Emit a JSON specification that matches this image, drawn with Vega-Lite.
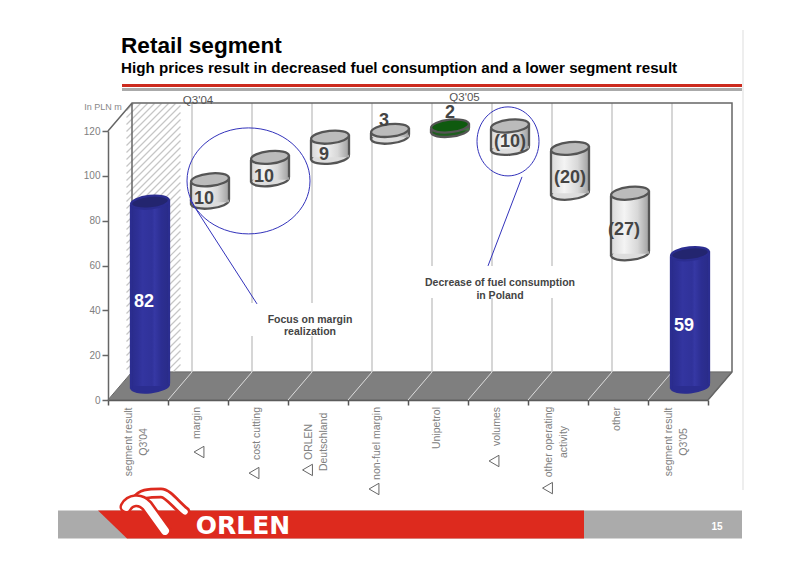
{
"$schema":"https://vega.github.io/schema/vega-lite/v6.json",
"width":600,"height":269,
"autosize":{"type":"none"},
"padding":{"left":108,"top":131,"right":92,"bottom":165},
"background":"white",
"config":{"view":{"stroke":null},"font":"Liberation Sans"},
"title":{"text":"Retail segment","subtitle":"High prices result in decreased fuel consumption and a lower segment result","anchor":"start","frame":"group","dx":13,"offset":-49,"font":"Liberation Sans","fontSize":22.6,"fontWeight":"bold","color":"#000000","subtitleFont":"Liberation Sans","subtitleFontSize":15.2,"subtitleFontWeight":"bold","subtitleColor":"#000000","subtitlePadding":3},
"datasets":{
"steps":[
{"category":"segment result Q3'04","kind":"total","low":0,"high":82,"label":"82","labelAt":41,"group":"white"},
{"category":"margin","kind":"step","low":82,"high":92,"label":"10","labelAt":86.6,"group":"a"},
{"category":"cost cutting","kind":"step","low":92,"high":102,"label":"10","labelAt":96.4,"group":"a"},
{"category":"ORLEN Deutschland","kind":"step","low":102,"high":111,"label":"9","labelAt":106.25,"group":"a"},
{"category":"non-fuel margin","kind":"step","low":111,"high":114,"label":"3","labelAt":121.4,"group":"a"},
{"category":"Unipetrol","kind":"unipetrol","low":114,"high":116,"label":"2","labelAt":125,"group":"b"},
{"category":"volumes","kind":"step","low":106,"high":116,"label":"(10)","labelAt":112,"group":"b"},
{"category":"other operating activity","kind":"step","low":86,"high":106,"label":"(20)","labelAt":96,"group":"b"},
{"category":"other","kind":"step","low":59,"high":86,"label":"(27)","labelAt":72.8,"group":"a"},
{"category":"segment result Q3'05","kind":"total","low":0,"high":59,"label":"59","labelAt":29.9,"group":"white"}
],
"anchor":[{"category":"Unipetrol","level":60}],
"oneLine":[
{"category":"margin","text":"margin"},
{"category":"cost cutting","text":"cost cutting"},
{"category":"non-fuel margin","text":"non-fuel margin"},
{"category":"Unipetrol","text":"Unipetrol"},
{"category":"volumes","text":"volumes"},
{"category":"other","text":"other"}
],
"twoLine":[
{"category":"segment result Q3'04","text":"segment result\nQ3'04"},
{"category":"ORLEN Deutschland","text":"ORLEN\nDeutschland"},
{"category":"other operating activity","text":"other operating\nactivity"},
{"category":"segment result Q3'05","text":"segment result\nQ3'05"}
],
"deltaA":[{"category":"margin","level":-23.2}],
"deltaB":[{"category":"cost cutting","level":-32.6},{"category":"non-fuel margin","level":-39.7},{"category":"volumes","level":-27.2}],
"deltaC":[{"category":"ORLEN Deutschland","level":-31.2},{"category":"other operating activity","level":-39.3}]
},
"data":{"name":"steps"},
"encoding":{"x":{"field":"category","type":"nominal","sort":null,"title":null,
"scale":{"domain":["segment result Q3'04","margin","cost cutting","ORLEN Deutschland","non-fuel margin","Unipetrol","volumes","other operating activity","other","segment result Q3'05"],"paddingInner":0,"paddingOuter":0},
"axis":{"labels":false,"tickBand":"extent","tickSize":5,"tickColor":"#555555","tickWidth":1.5,"domainColor":"#555555","domainWidth":1.5,"grid":false,"title":null}}},
"resolve":{"scale":{"fill":"independent"}},
"layer":[
{"data":{"name":"anchor"},"mark":{"type":"point","filled":true,"opacity":1,"size":4,"fill":"#ababab","strokeWidth":0,"shape":"M-380,244.9L304,244.9L304,272.9L-380,272.9Z"},
"encoding":{"y":{"field":"level","type":"quantitative","scale":{"domain":[0,120],"nice":false},
"axis":{"values":[0,20,40,60,80,100,120],"title":"In PLN m","titleAngle":0,"titleX":-5.5,"titleY":-24.5,"titleAlign":"center","titleBaseline":"middle","titleFontSize":9,"titleFontWeight":"normal","titleColor":"#888888","labelColor":"#808080","labelFontSize":10,"tickColor":"#666666","tickWidth":1.5,"tickSize":6,"labelPadding":2,"domainColor":"#666666","domainWidth":1.5,"grid":false}}}},
{"data":{"name":"anchor"},"mark":{"type":"point","filled":true,"opacity":1,"size":4,"fill":"#dd2a1e","strokeWidth":0,"shape":"M-340,244.9L146,244.9L146,272.9L-311,272.9Z"},"encoding":{"y":{"field":"level","type":"quantitative"}}},
{"data":{"name":"anchor"},"mark":{"type":"point","filled":false,"opacity":1,"size":4,"stroke":"#dd2a1e","strokeWidth":11,"strokeCap":"round","shape":"M-301,234.4C-297,228.4 -291,227.4 -277,227.4C-270,227.4 -262,239.4 -253,246.4"},"encoding":{"y":{"field":"level","type":"quantitative"}}},
{"data":{"name":"anchor"},"mark":{"type":"point","filled":false,"opacity":1,"size":4,"stroke":"#ffffff","strokeWidth":5.5,"strokeCap":"round","shape":"M-301,234.4C-297,228.4 -291,227.4 -277,227.4C-270,227.4 -262,239.4 -253,246.4"},"encoding":{"y":{"field":"level","type":"quantitative"}}},
{"data":{"name":"anchor"},"mark":{"type":"point","filled":false,"opacity":1,"size":4,"stroke":"#dd2a1e","strokeWidth":13,"strokeCap":"round","shape":"M-312,241.4C-308,234.4 -298,232.4 -291,240.4L-273,265.4"},"encoding":{"y":{"field":"level","type":"quantitative"}}},
{"data":{"name":"anchor"},"mark":{"type":"point","filled":false,"opacity":1,"size":4,"stroke":"#ffffff","strokeWidth":8,"strokeCap":"round","shape":"M-312,241.4C-308,234.4 -298,232.4 -291,240.4L-273,265.4"},"encoding":{"y":{"field":"level","type":"quantitative"}}},
{"data":{"name":"anchor"},"mark":{"type":"point","filled":false,"opacity":1,"size":4,"stroke":"#e8e8e8","strokeWidth":1.5,"shape":"M305,-235.6L305,224.4"},"encoding":{"y":{"field":"level","type":"quantitative"}}},
{"data":{"name":"anchor"},"mark":{"type":"point","filled":true,"opacity":1,"size":4,"fill":"#cc2a1e","strokeWidth":0,"shape":"M-316,-181.6L304,-181.6L304,-178.6L-316,-178.6Z"},"encoding":{"y":{"field":"level","type":"quantitative"}}},
{"data":{"name":"anchor"},"mark":{"type":"point","filled":true,"opacity":1,"size":4,"fill":"#aaaaaa","strokeWidth":0,"shape":"M-316,-177.6L304,-177.6L304,-174.6L-316,-174.6Z"},"encoding":{"y":{"field":"level","type":"quantitative"}}},
{"data":{"name":"anchor"},"mark":{"type":"point","filled":true,"opacity":1,"size":4,"fill":"#7f7f7f","stroke":"#666666","strokeWidth":1,"shape":"M-330,134.4L-306,106.4L294,106.4L270,134.4Z"},"encoding":{"y":{"field":"level","type":"quantitative"}}},
{"data":{"name":"anchor"},"mark":{"type":"point","filled":false,"opacity":1,"size":4,"stroke":"#c6c6c6","strokeWidth":1.2,"xOffset":-284.5,"shape":"M-27,-127L-20,-134M-27,-120L-13,-134M-27,-113L-6,-134M-27,-106L1,-134M-27,-99L8,-134M-27,-92L15,-134M-27,-85L22,-134M-27,-78L27,-132M-27,-71L27,-125M-27,-64L27,-118M-27,-57L27,-111M-27,-50L27,-104M-27,-43L27,-97M-27,-36L27,-90M-27,-29L27,-83M-27,-22L27,-76M-27,-15L27,-69M-27,-8L27,-62M-27,-1L27,-55M-27,6L27,-48M-27,13L27,-41M-27,20L27,-34M-27,27L27,-27M-27,34L27,-20M-27,41L27,-13M-27,48L27,-6M-27,55L27,1M-27,62L27,8M-27,69L27,15M-27,76L27,22M-27,83L27,29M-27,90L27,36M-27,97L27,43M-27,104L27,50M-27,111L27,57M-27,118L27,64M-27,125L27,71M-27,132L27,78M-22,134L27,85M-15,134L27,92M-8,134L27,99M-1,134L27,106M6,134L27,113M13,134L27,120M20,134L27,127","yOffset":-28},"encoding":{"y":{"field":"level","type":"quantitative"}}},
{"transform":[{"filter":"datum.category !== \"segment result Q3'04\""}],"mark":{"type":"rule","stroke":"#c8c8c8","strokeWidth":1.5,"xOffset":24,"yOffset":-28,"y2Offset":-28},"encoding":{"x":{"field":"category","type":"nominal","bandPosition":0},"y":{"datum":0},"y2":{"datum":120}}},
{"data":{"name":"anchor"},"mark":{"type":"point","filled":false,"opacity":1,"size":4,"stroke":"#666666","strokeWidth":1.5,"shape":"M-330,-134.6L-306,-162.6L294,-162.6L294,106.4L270,134.4M-306,-162.6L-306,106.4"},"encoding":{"y":{"field":"level","type":"quantitative"}}},
{"transform":[{"filter":"datum.category !== \"segment result Q3'04\""}],"mark":{"type":"point","filled":false,"opacity":1,"size":4,"stroke":"#dddddd","strokeWidth":1,"xOffset":12,"yOffset":-14,"shape":"M-12,14L12,-14"},"encoding":{"x":{"field":"category","type":"nominal","bandPosition":0},"y":{"datum":0}}},
{"data":{"name":"anchor"},"mark":{"type":"point","filled":true,"opacity":1,"size":4,"fill":"#ffffff","strokeWidth":0,"shape":"M-188,37.4L-70,37.4L-70,70.4L-188,70.4Z"},"encoding":{"y":{"field":"level","type":"quantitative"}}},
{"data":{"name":"anchor"},"mark":{"type":"point","filled":true,"opacity":1,"size":4,"fill":"#ffffff","strokeWidth":0,"shape":"M-13,0.4L140,0.4L140,32.4L-13,32.4Z"},"encoding":{"y":{"field":"level","type":"quantitative"}}},
{"mark":{"type":"point","filled":true,"opacity":1,"size":1444,"angle":-6,"xOffset":12,"yOffset":-14,"strokeWidth":2.3,"shape":"M-1,0C-1,-0.182 -0.552,-0.33 0,-0.33C0.552,-0.33 1,-0.182 1,0C1,0.182 0.552,0.33 0,0.33C-0.552,0.33 -1,0.182 -1,0Z"},
"encoding":{"y":{"field":"low","type":"quantitative"},"fill":{"field":"kind","type":"nominal","legend":null,"scale":{"domain":["total","step","unipetrol"],"range":["#2b2d90","#dddddd","#1f5f1f"]}},"stroke":{"field":"kind","type":"nominal","legend":null,"scale":{"domain":["total","step","unipetrol"],"range":["#2b2d90","#555555","#555555"]}}}},
{"transform":[{"filter":"datum.kind === 'step'"}],"mark":{"type":"bar","width":38,"xOffset":12,"yOffset":-14,"y2Offset":-14,"fill":{"gradient":"linear","x1":0,"y1":0,"x2":1,"y2":0,"stops":[{"offset":0,"color":"#d8d8d8"},{"offset":0.35,"color":"#f4f4f4"},{"offset":0.7,"color":"#d8d8d8"},{"offset":1,"color":"#a0a0a0"}]}},"encoding":{"y":{"field":"low","type":"quantitative"},"y2":{"field":"high"}}},
{"transform":[{"filter":"datum.kind === 'total'"}],"mark":{"type":"bar","width":38,"xOffset":12,"yOffset":-14,"y2Offset":-14,"fill":{"gradient":"linear","x1":0,"y1":0,"x2":1,"y2":0,"stops":[{"offset":0,"color":"#2a2c8c"},{"offset":0.18,"color":"#2e3096"},{"offset":0.3,"color":"#3335a0"},{"offset":0.55,"color":"#30329a"},{"offset":0.62,"color":"#3638a4"},{"offset":0.8,"color":"#2c2e92"},{"offset":1,"color":"#2a2c88"}]}},"encoding":{"y":{"field":"low","type":"quantitative"},"y2":{"field":"high"}}},
{"transform":[{"filter":"datum.kind === 'unipetrol'"}],"mark":{"type":"bar","width":38,"xOffset":12,"yOffset":-14,"y2Offset":-14,"fill":"#3f7a3f"},"encoding":{"y":{"field":"low","type":"quantitative"},"y2":{"field":"high"}}},
{"mark":{"type":"rule","strokeWidth":2.3,"xOffset":-7,"yOffset":-11.5,"y2Offset":-11.5},"encoding":{"x":{"field":"category","type":"nominal"},"y":{"field":"low","type":"quantitative"},"y2":{"field":"high"},"stroke":{"field":"kind","type":"nominal","legend":null}}},
{"mark":{"type":"rule","strokeWidth":2.3,"xOffset":31,"yOffset":-16.5,"y2Offset":-16.5},"encoding":{"x":{"field":"category","type":"nominal"},"y":{"field":"low","type":"quantitative"},"y2":{"field":"high"},"stroke":{"field":"kind","type":"nominal","legend":null}}},
{"mark":{"type":"point","filled":true,"opacity":1,"size":1444,"angle":-6,"xOffset":12,"yOffset":-14,"strokeWidth":2.3,"shape":"M-1,0C-1,-0.182 -0.552,-0.33 0,-0.33C0.552,-0.33 1,-0.182 1,0C1,0.182 0.552,0.33 0,0.33C-0.552,0.33 -1,0.182 -1,0Z"},
"encoding":{"y":{"field":"high","type":"quantitative"},"fill":{"field":"kind","type":"nominal","legend":null,"scale":{"domain":["total","step","unipetrol"],"range":["#23256f","#bbbbbb","#0f5a0f"]}},"stroke":{"field":"kind","type":"nominal","legend":null}}},
{"data":{"name":"anchor"},"mark":{"type":"point","filled":false,"opacity":1,"size":4,"stroke":"#3333bb","strokeWidth":1,"shape":"M-251,-84.6C-251,-113.9 -223.5,-137.6 -189.5,-137.6C-155.5,-137.6 -128,-113.9 -128,-84.6C-128,-55.3 -155.5,-31.6 -189.5,-31.6C-223.5,-31.6 -251,-55.3 -251,-84.6ZM-248,-65.6L-181,38.4"},"encoding":{"y":{"field":"level","type":"quantitative"}}},
{"data":{"name":"anchor"},"mark":{"type":"point","filled":false,"opacity":1,"size":4,"stroke":"#3333bb","strokeWidth":1,"shape":"M39,-124.1C39,-143.1 52.9,-158.6 70,-158.6C87.1,-158.6 101,-143.1 101,-124.1C101,-105.1 87.1,-89.6 70,-89.6C52.9,-89.6 39,-105.1 39,-124.1ZM84,-88.6L50,0.4"},"encoding":{"y":{"field":"level","type":"quantitative"}}},
{"transform":[{"filter":"datum.group === 'white'"}],"mark":{"type":"text","dx":6,"dy":-6.5,"fontSize":18,"fontWeight":"bold","fill":"#ffffff","baseline":"middle"},"encoding":{"y":{"field":"labelAt","type":"quantitative"},"text":{"field":"label"}}},
{"transform":[{"filter":"datum.group === 'a'"}],"mark":{"type":"text","dx":6,"dy":-7,"fontSize":18,"fontWeight":"bold","fill":"#444444","baseline":"middle"},"encoding":{"y":{"field":"labelAt","type":"quantitative"},"text":{"field":"label"}}},
{"transform":[{"filter":"datum.group === 'b'"}],"mark":{"type":"text","dx":12,"dy":-7,"fontSize":18,"fontWeight":"bold","fill":"#444444","baseline":"middle"},"encoding":{"y":{"field":"labelAt","type":"quantitative"},"text":{"field":"label"}}},
{"data":{"name":"oneLine"},"mark":{"type":"text","angle":-90,"align":"right","baseline":"middle","dy":-1,"fontSize":10.5,"fill":"#808080"},"encoding":{"y":{"datum":-3.1},"text":{"field":"text"}}},
{"data":{"name":"twoLine"},"mark":{"type":"text","angle":-90,"align":"center","baseline":"middle","dy":-9,"fontSize":10.5,"fill":"#808080","lineBreak":"\n","lineHeight":14.5},"encoding":{"y":{"datum":-18.7},"text":{"field":"text"}}},
{"data":{"name":"deltaA"},"mark":{"type":"point","filled":false,"opacity":1,"size":130,"shape":"triangle-left","stroke":"#666666","strokeWidth":1,"xOffset":1},"encoding":{"y":{"field":"level","type":"quantitative"}}},
{"data":{"name":"deltaB"},"mark":{"type":"point","filled":false,"opacity":1,"size":130,"shape":"triangle-left","stroke":"#666666","strokeWidth":1,"xOffset":-4},"encoding":{"y":{"field":"level","type":"quantitative"}}},
{"data":{"name":"deltaC"},"mark":{"type":"point","filled":false,"opacity":1,"size":130,"shape":"triangle-left","stroke":"#666666","strokeWidth":1,"xOffset":-10.5},"encoding":{"y":{"field":"level","type":"quantitative"}}},
{"data":{"values":[{"category":"margin","note":"Q3'04","level":133.5}]},"mark":{"type":"text","fontSize":11.5,"fill":"#555555","baseline":"middle"},"encoding":{"y":{"field":"level","type":"quantitative"},"text":{"field":"note"}}},
{"data":{"values":[{"category":"Unipetrol","note":"Q3'05","level":134.5}]},"mark":{"type":"text","fontSize":11.5,"fill":"#555555","baseline":"middle","dx":26.5},"encoding":{"y":{"field":"level","type":"quantitative"},"text":{"field":"note"}}},
{"data":{"values":[{"category":"ORLEN Deutschland","note":"Focus on margin\nrealization","level":35.7}]},"mark":{"type":"text","fontSize":10.5,"fontWeight":"bold","fill":"#444444","baseline":"middle","align":"center","dx":-8,"lineBreak":"\n","lineHeight":12.5},"encoding":{"y":{"field":"level","type":"quantitative"},"text":{"field":"note"}}},
{"data":{"values":[{"category":"volumes","note":"Decrease of fuel consumption\nin Poland","level":52}]},"mark":{"type":"text","fontSize":10.5,"fontWeight":"bold","fill":"#444444","baseline":"middle","align":"center","dx":2,"lineBreak":"\n","lineHeight":12.5},"encoding":{"y":{"field":"level","type":"quantitative"},"text":{"field":"note"}}},
{"data":{"values":[{"category":"cost cutting","brand":"ORLEN","level":-56.25}]},"mark":{"type":"text","font":"DejaVu Sans","fontSize":25,"fontWeight":"bold","fill":"#ffffff","baseline":"middle","align":"center","dx":-15},"encoding":{"y":{"field":"level","type":"quantitative"},"text":{"field":"brand"}}},
{"data":{"values":[{"category":"segment result Q3'05","page":"15","level":-56.7}]},"mark":{"type":"text","fontSize":10,"fontWeight":"bold","fill":"#ffffff","baseline":"middle","align":"center","dx":39},"encoding":{"y":{"field":"level","type":"quantitative"},"text":{"field":"page"}}}
]
}
